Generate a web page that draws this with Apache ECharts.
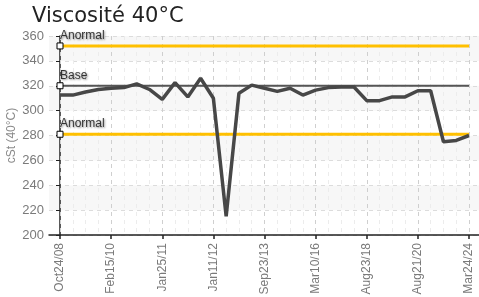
<!DOCTYPE html>
<html>
<head>
<meta charset="utf-8">
<script src="https://cdn.jsdelivr.net/npm/echarts@6/dist/echarts.min.js"></script>
<style>
    html, body { margin: 0; padding: 0; background: #fff; }
    #chart { width: 479px; height: 297px; }
</style>
</head>
<body>
<div id="chart"></div>
<script>
    // libellés de l'axe X (un tous les 4 relevés)
    var tickLabels = ['Oct24/08', 'Feb15/10', 'Jan25/11', 'Jan11/12', 'Sep23/13', 'Mar10/16', 'Aug23/18', 'Aug21/20', 'Mar24/24'];
    // viscosité mesurée, un point par relevé
    var viscosity = [312.5, 312.5, 315, 317, 318, 318.5, 321.5, 317, 309, 322.5, 311, 326, 310, 215, 314, 320.5,
        318, 315.5, 318, 312.5, 316.5, 318.5, 319, 319, 308, 308, 311, 311, 316, 316, 275, 276, 280];
    // seuils
    var limitNames = ['Anormal', 'Base', 'Anormal'];
    var limitValues = [352, 320, 281];
    var limitColors = ['#FFC000', '#555555', '#FFC000'];
    var yTicks = [200, 220, 240, 260, 280, 300, 320, 340, 360];

    var labelFont = '"Liberation Sans", Arial, sans-serif';
    var lastIdx = viscosity.length - 1;
    var majorTicks = tickLabels.map(function (l, i) { return i * 4; });

    var mainData = viscosity.map(function (v, i) { return [i, v]; });

    var limitSeries = limitValues.map(function (v, k) {
        return {
            name: limitNames[k],
            type: 'line',
            xAxisIndex: 0,
            yAxisIndex: 0,
            silent: true,
            z: 3,
            lineStyle: { color: limitColors[k], width: k === 1 ? 2 : 3 },
            data: [
                {
                    value: [0, v], symbol: 'rect', symbolSize: 6,
                    itemStyle: { color: '#fff', borderColor: '#000', borderWidth: 1 },
                    label: {
                        show: true, formatter: limitNames[k], position: 'top', align: 'left',
                        offset: [0, 4], color: '#333', fontSize: 12,
                        fontFamily: labelFont,
                        textShadowColor: 'rgba(0,0,0,0.45)', textShadowBlur: 2, textShadowOffsetX: 1, textShadowOffsetY: 1
                    }
                },
                { value: [lastIdx, v], symbol: 'none' }
            ]
        };
    });

    var chart = echarts.init(document.getElementById('chart'));
    var option = {
        animation: false,
        title: {
            text: 'Viscosité 40°C',
            left: 27, top: 1,
            textStyle: { fontFamily: '"DejaVu Sans", sans-serif', fontSize: 21, fontWeight: 'normal', color: '#222' }
        },
        grid: [
            { left: 49, right: 0, top: 36, bottom: 62, outerBoundsMode: 'none' },
            { left: 60, right: 10, top: 36, bottom: 62, outerBoundsMode: 'none' }
        ],
        xAxis: [
            {
                type: 'value', gridIndex: 0,
                min: -11 / 12.78, max: lastIdx + 10 / 12.78,
                axisLine: { show: true, onZero: false, lineStyle: { color: '#222', width: 1.5 } },
                axisTick: { show: true, customValues: majorTicks, length: 4, lineStyle: { color: '#222', width: 1.5 } },
                axisLabel: {
                    customValues: majorTicks, rotate: 90, margin: 8,
                    color: '#7a7a7a', fontSize: 12, fontFamily: labelFont,
                    formatter: function (val) { return tickLabels[Math.round(val / 4)] || ''; }
                },
                splitLine: { show: false }
            },
            {
                type: 'value', gridIndex: 1, min: 0, max: lastIdx, interval: 4, z: 1,
                axisLine: { show: false }, axisTick: { show: false }, axisLabel: { show: false },
                splitLine: { show: true, lineStyle: { color: '#cfcfcf', type: [4, 4] } },
                minorTick: { show: false, splitNumber: 4 },
                minorSplitLine: { show: true, lineStyle: { color: '#ececec', type: [4, 4] } }
            }
        ],
        yAxis: [
            {
                type: 'value', gridIndex: 0, min: 200, max: 360, interval: 20,
                name: 'cSt (40°C)', nameLocation: 'middle', nameGap: 31, nameMoveOverlap: false,
                nameTextStyle: { color: '#8a8a8a', fontSize: 12, fontFamily: labelFont },
                axisLine: { show: true, lineStyle: { color: '#222', width: 1.5 } },
                axisTick: { show: true, length: 4, lineStyle: { color: '#222' } },
                axisLabel: {
                    color: '#7a7a7a', fontSize: 13, fontFamily: labelFont, margin: 5,
                    customValues: yTicks
                },
                splitLine: { show: true, lineStyle: { color: '#dcdcdc', type: [4, 4] } },
                splitArea: { show: true, areaStyle: { color: ['#ffffff', '#f7f7f7'] } }
            },
            {
                type: 'value', gridIndex: 1, min: 200, max: 360, interval: 20, show: false
            }
        ],
        series: [
            {
                name: 'Viscosité',
                type: 'line',
                xAxisIndex: 0,
                yAxisIndex: 0,
                z: 4,
                symbol: 'none',
                lineStyle: { color: '#474747', width: 3.5 },
                data: mainData
            }
        ].concat(limitSeries)
    };
    chart.setOption(option);
</script>
</body>
</html>
